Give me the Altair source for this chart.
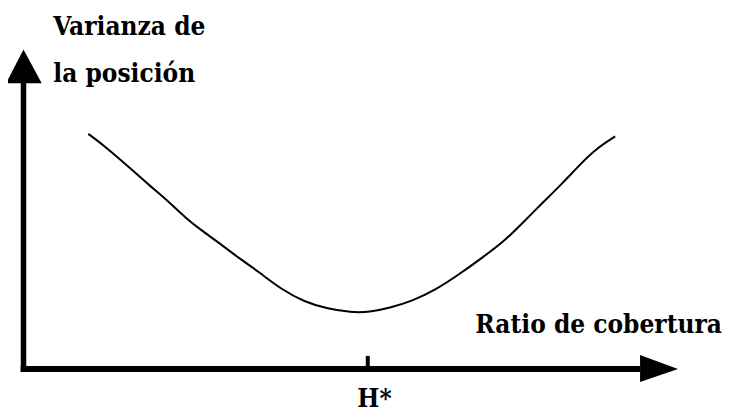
import altair as alt
import pandas as pd

# Curve (x: ratio de cobertura, y: varianza), axis origin at (0, 0)
curve_x = [0.99, 1.27, 1.65, 1.91, 2.24, 2.47, 2.71, 3.00, 3.29, 3.59, 3.94, 4.29, 4.65,
           5.00, 5.29, 5.59, 5.94, 6.29, 6.64, 7.00, 7.35, 7.58, 7.94, 8.23, 8.52, 8.76, 9.04]
curve_y = [7.36, 6.93, 6.25, 5.77, 5.20, 4.74, 4.35, 3.93, 3.47, 3.05, 2.49, 2.10, 1.88,
           1.77, 1.78, 1.91, 2.13, 2.47, 2.94, 3.47, 4.01, 4.48, 5.22, 5.80, 6.44, 6.91, 7.28]

# Key positions of the schematic (data units)
h_star = 5.26
left_labels = ["Varianza de", "la posición", "H*"]
left_x = [0.455, 0.455, 5.10]
left_y = [10.45, 8.98, -1.19]
right_labels = ["Ratio de cobertura"]
right_x = [10.672]
right_y = [1.127]

X_DOM = [-0.2368, 10.6875]
Y_DOM = [-1.1268, 11.2989]
xs = alt.Scale(domain=X_DOM, nice=False, zero=False)
ys = alt.Scale(domain=Y_DOM, nice=False, zero=False)

FONT = "DejaVu Serif Condensed, DejaVu Serif"
FS = 26

curve_df = pd.DataFrame({"x": curve_x, "y": curve_y, "i": range(len(curve_x))})
curve = alt.Chart(curve_df).mark_line(color="black", strokeWidth=2, interpolate="basis").encode(
    x=alt.X("x:Q", scale=xs, axis=None),
    y=alt.Y("y:Q", scale=ys, axis=None),
    order="i:Q",
)

vaxis = alt.Chart(pd.DataFrame({"x": [0.0], "y": [-0.09], "y2": [8.95]})).mark_rule(
    color="black", strokeWidth=5.5
).encode(x=alt.X("x:Q", scale=xs, axis=None), y=alt.Y("y:Q", scale=ys, axis=None), y2="y2:Q")

haxis = alt.Chart(pd.DataFrame({"y": [0.0], "x": [-0.043], "x2": [9.42]})).mark_rule(
    color="black", strokeWidth=6
).encode(y=alt.Y("y:Q", scale=ys, axis=None), x=alt.X("x:Q", scale=xs, axis=None), x2="x2:Q")

tick = alt.Chart(pd.DataFrame({"x": [h_star], "y": [0.0], "y2": [0.41]})).mark_rule(
    color="black", strokeWidth=4
).encode(x=alt.X("x:Q", scale=xs, axis=None), y=alt.Y("y:Q", scale=ys, axis=None), y2="y2:Q")

up_arrow = alt.Chart(pd.DataFrame({"y": [8.94, 10.0], "x": [-0.267, 0.0], "x2": [0.278, 0.0]})).mark_area(
    color="black", orient="horizontal", opacity=1
).encode(y=alt.Y("y:Q", scale=ys, axis=None), x=alt.X("x:Q", scale=xs, axis=None), x2="x2:Q")

right_arrow = alt.Chart(pd.DataFrame({"x": [9.42, 10.0], "y": [0.438, 0.0], "y2": [-0.407, 0.0]})).mark_area(
    color="black", orient="vertical", opacity=1
).encode(x=alt.X("x:Q", scale=xs, axis=None), y=alt.Y("y:Q", scale=ys, axis=None), y2="y2:Q")

text_left = alt.Chart(pd.DataFrame({"t": left_labels, "x": left_x, "y": left_y})).mark_text(
    font=FONT, fontSize=FS, fontWeight="bold", color="black", baseline="alphabetic", align="left"
).encode(x=alt.X("x:Q", scale=xs, axis=None), y=alt.Y("y:Q", scale=ys, axis=None), text="t:N")

text_right = alt.Chart(pd.DataFrame({"t": right_labels, "x": right_x, "y": right_y})).mark_text(
    font=FONT, fontSize=FS, fontWeight="bold", color="black", baseline="alphabetic", align="right"
).encode(x=alt.X("x:Q", scale=xs, axis=None), y=alt.Y("y:Q", scale=ys, axis=None), text="t:N")

chart = alt.layer(vaxis, haxis, tick, up_arrow, right_arrow, curve, text_left, text_right).properties(
    width=715, height=397,
    autosize=alt.AutoSizeParams(type="none"),
    padding={"left": 0, "top": 0, "right": 0, "bottom": 8},
    background="white",
).configure_view(stroke=None)

chart.save("out.html", embed_options={"renderer": "svg", "actions": False})
